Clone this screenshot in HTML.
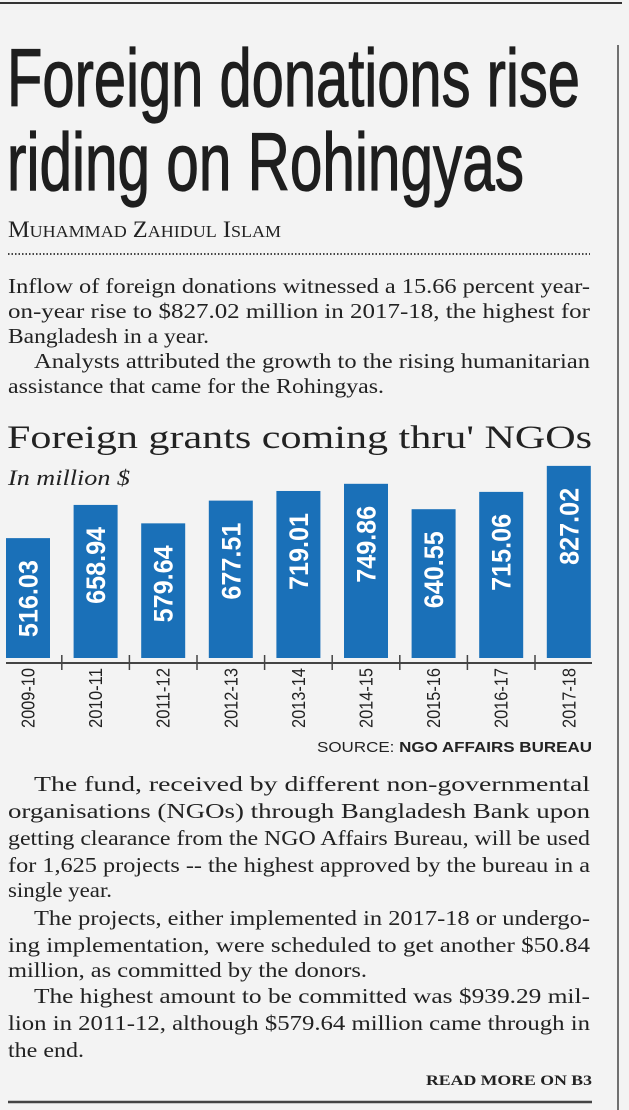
<!DOCTYPE html>
<html><head><meta charset="utf-8"><style>
html,body{margin:0;padding:0;background:#f3f3f3;}
svg{display:block;}
.s{font-family:"Liberation Serif",serif;fill:#222;}
.h{font-family:"Liberation Sans",sans-serif;fill:#1e1e1e;stroke:#1e1e1e;stroke-width:1.2;}
</style></head><body>
<svg id="page" width="629" height="1110" viewBox="0 0 629 1110" xmlns="http://www.w3.org/2000/svg">
<rect width="629" height="1110" fill="#f3f3f3"/>
<line x1="0" y1="3" x2="622" y2="3" stroke="#333" stroke-width="2"/>
<line x1="618" y1="45" x2="618" y2="1110" stroke="#444" stroke-width="1.5"/>
<text class="h" x="7" y="106" font-size="82" textLength="573" lengthAdjust="spacingAndGlyphs">Foreign donations rise</text>
<text class="h" x="7" y="190" font-size="82" textLength="517" lengthAdjust="spacingAndGlyphs">riding on Rohingyas</text>
<text class="s" x="8" y="237" font-size="23" textLength="273" lengthAdjust="spacingAndGlyphs">M<tspan font-size="17">UHAMMAD</tspan> Z<tspan font-size="17">AHIDUL</tspan> I<tspan font-size="17">SLAM</tspan></text>
<line x1="8" y1="254" x2="590" y2="254" stroke="#444" stroke-width="2" stroke-dasharray="1.5,2"/>
<g class="s" font-size="21">
<text x="8" y="293" textLength="582" lengthAdjust="spacingAndGlyphs">Inflow of foreign donations witnessed a 15.66 percent year-</text>
<text x="8" y="318" textLength="582" lengthAdjust="spacingAndGlyphs">on-year rise to $827.02 million in 2017-18, the highest for</text>
<text x="8" y="343" textLength="201" lengthAdjust="spacingAndGlyphs">Bangladesh in a year.</text>
<text x="34" y="368" textLength="556" lengthAdjust="spacingAndGlyphs">Analysts attributed the growth to the rising humanitarian</text>
<text x="8" y="393" textLength="376" lengthAdjust="spacingAndGlyphs">assistance that came for the Rohingyas.</text>
</g>
<text class="s" x="7" y="448" font-size="33" textLength="585" lengthAdjust="spacingAndGlyphs">Foreign grants coming thru' NGOs</text>
<text class="s" x="8" y="485" font-size="22" font-style="italic" textLength="122" lengthAdjust="spacingAndGlyphs">In million $</text>
<g id="chart"></g>
<text x="317" y="752" font-family="Liberation Sans, sans-serif" font-size="15" fill="#222" textLength="275" lengthAdjust="spacingAndGlyphs">SOURCE: <tspan font-weight="bold">NGO AFFAIRS BUREAU</tspan></text>
<g class="s" font-size="21">
<text x="34" y="791" textLength="556" lengthAdjust="spacingAndGlyphs">The fund, received by different non-governmental</text>
<text x="8" y="818" textLength="582" lengthAdjust="spacingAndGlyphs">organisations (NGOs) through Bangladesh Bank upon</text>
<text x="8" y="845" textLength="582" lengthAdjust="spacingAndGlyphs">getting clearance from the NGO Affairs Bureau, will be used</text>
<text x="8" y="872" textLength="582" lengthAdjust="spacingAndGlyphs">for 1,625 projects -- the highest approved by the bureau in a</text>
<text x="8" y="897" textLength="104" lengthAdjust="spacingAndGlyphs">single year.</text>
<text x="34" y="925" textLength="556" lengthAdjust="spacingAndGlyphs">The projects, either implemented in 2017-18 or undergo-</text>
<text x="8" y="952" textLength="582" lengthAdjust="spacingAndGlyphs">ing implementation, were scheduled to get another $50.84</text>
<text x="8" y="977" textLength="359" lengthAdjust="spacingAndGlyphs">million, as committed by the donors.</text>
<text x="34" y="1003" textLength="556" lengthAdjust="spacingAndGlyphs">The highest amount to be committed was $939.29 mil-</text>
<text x="8" y="1030" textLength="582" lengthAdjust="spacingAndGlyphs">lion in 2011-12, although $579.64 million came through in</text>
<text x="8" y="1057" textLength="76" lengthAdjust="spacingAndGlyphs">the end.</text>
</g>
<text class="s" x="426" y="1085" font-size="15" font-weight="bold" textLength="166" lengthAdjust="spacingAndGlyphs">READ MORE ON B3</text>
<line x1="8" y1="1102" x2="592" y2="1102" stroke="#444" stroke-width="2.5"/>
</svg>
<script>
const categories = ["2009-10","2010-11","2011-12","2012-13","2013-14","2014-15","2015-16","2016-17","2017-18"];
const values = [516.03,658.94,579.64,677.51,719.01,749.86,640.55,715.06,827.02];
const valueLabels = ["516.03","658.94","579.64","677.51","719.01","749.86","640.55","715.06","827.02"];

const NS = "http://www.w3.org/2000/svg";
const g = document.getElementById('chart');
const baseY = 658, pxPerUnit = 0.2323, x0 = 6, step = 67.6, bw = 44;
const xPos = i => x0 + i * step;
const yPos = v => baseY - v * pxPerUnit;
function mk(tag, attrs){const e=document.createElementNS(NS,tag);for(const k in attrs)e.setAttribute(k,attrs[k]);return e;}

categories.forEach((c, i) => {
  const v = values[i];
  const x = xPos(i), y = yPos(v);
  const r = mk('rect',{x:x,y:y,width:bw,height:baseY-y,fill:'#1a70b8'});
  
  
  g.appendChild(r);
  const cx = x + bw/2;
  const t = mk('text',{x:0,y:0,transform:`translate(${cx+9.5},${y+22}) rotate(-90)`,'text-anchor':'end','font-family':'Liberation Sans, sans-serif','font-weight':'bold','font-size':'27',fill:'#fff',textLength:'77',lengthAdjust:'spacingAndGlyphs'});
  t.textContent = valueLabels[i];
  
  
  g.appendChild(t);
  const l = mk('text',{x:0,y:0,transform:`translate(${cx+6.5},${668}) rotate(-90)`,'text-anchor':'end','font-family':'Liberation Sans, sans-serif','font-size':'18',fill:'#222',textLength:'60',lengthAdjust:'spacingAndGlyphs'});
  l.textContent = c;
  
  
  g.appendChild(l);
  if (i > 0) {
    const tx = xPos(i) - (step - bw)/2;
    const tk = mk('line',{x1:tx,y1:655,x2:tx,y2:670,stroke:'#444','stroke-width':'1.5'});
    
    
    g.appendChild(tk);
  }
});
const ax = mk('line',{x1:6,y1:663,x2:592,y2:663,stroke:'#444','stroke-width':'2'});


g.appendChild(ax);
</script>
</body></html>
